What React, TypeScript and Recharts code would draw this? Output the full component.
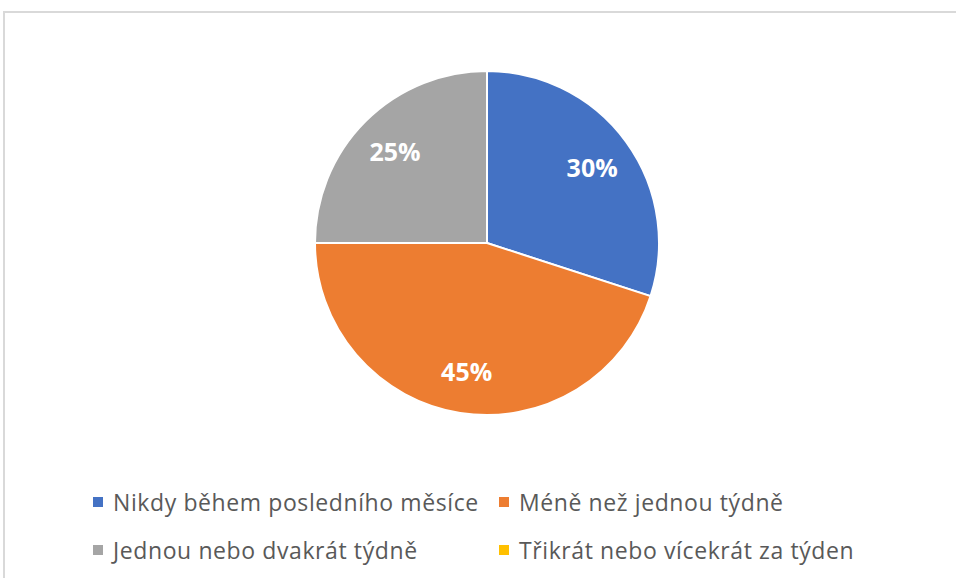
import { PieChart, Pie, Cell, Legend } from 'recharts';

const categories = [
  'Nikdy během posledního měsíce',
  'Méně než jednou týdně',
  'Jednou nebo dvakrát týdně',
  'Třikrát nebo vícekrát za týden',
];
const values = [30, 45, 25, 0];
const colors = ['#4472c4', '#ed7d31', '#a5a5a5', '#ffc000'];

const data = categories.map((name, i) => ({ name, value: values[i], color: colors[i] }));

const RADIAN = Math.PI / 180;
const FONT = '"Open Sans", "Noto Sans", sans-serif';

const renderLabel = (props: any) => {
  const { cx, cy, midAngle, percent } = props;
  if (!percent) return null;
  const r = 130;
  const x = cx + r * Math.cos(-midAngle * RADIAN);
  const y = cy + r * Math.sin(-midAngle * RADIAN);
  return (
    <text
      x={x}
      y={y}
      fill="#fff"
      textAnchor="middle"
      dominantBaseline="central"
      fontSize={25}
      fontWeight="bold"
      fontFamily={FONT}
    >
      {`${Math.round(percent * 100)}%`}
    </text>
  );
};

// two-column legend like the Excel one
const renderLegend = () => (
  <div
    style={{
      display: 'grid',
      gridTemplateColumns: '406px 420px',
      rowGap: 22,
      paddingLeft: 93,
      fontFamily: FONT,
      fontSize: 23,
      letterSpacing: 0.6,
      color: '#595959',
    }}
  >
    {data.map((d) => (
      <div key={d.name} style={{ display: 'flex', alignItems: 'center', height: 26 }}>
        <span style={{ width: 10, height: 10, background: d.color, marginRight: 10, display: 'inline-block', flex: 'none' }} />
        <span style={{ whiteSpace: 'nowrap' }}>{d.name}</span>
      </div>
    ))}
  </div>
);

export default function App() {
  return (
    <div style={{ position: 'fixed', left: 0, top: 0, width: 956, height: 578, background: '#fff', overflow: 'hidden' }}>
      <div
        style={{
          position: 'absolute',
          left: 3,
          top: 11,
          width: 1000,
          height: 700,
          border: '2px solid #d9d9d9',
          boxSizing: 'border-box',
        }}
      />
      <div style={{ position: 'absolute', left: 0, top: 0 }}>
        <PieChart width={956} height={578} margin={{ top: 0, right: 0, bottom: 0, left: 0 }}>
          <Pie
            data={data}
            dataKey="value"
            nameKey="name"
            cx={487}
            cy={243}
            outerRadius={172}
            startAngle={90}
            endAngle={-270}
            stroke="#fff"
            strokeWidth={2}
            label={renderLabel}
            labelLine={false}
            isAnimationActive={false}
          >
            {data.map((d, i) => (
              <Cell key={`cell-${i}`} fill={d.color} />
            ))}
          </Pie>
          <Legend
            content={renderLegend}
            wrapperStyle={{ left: 0, top: 489, width: 956 }}
          />
        </PieChart>
      </div>
    </div>
  );
}
